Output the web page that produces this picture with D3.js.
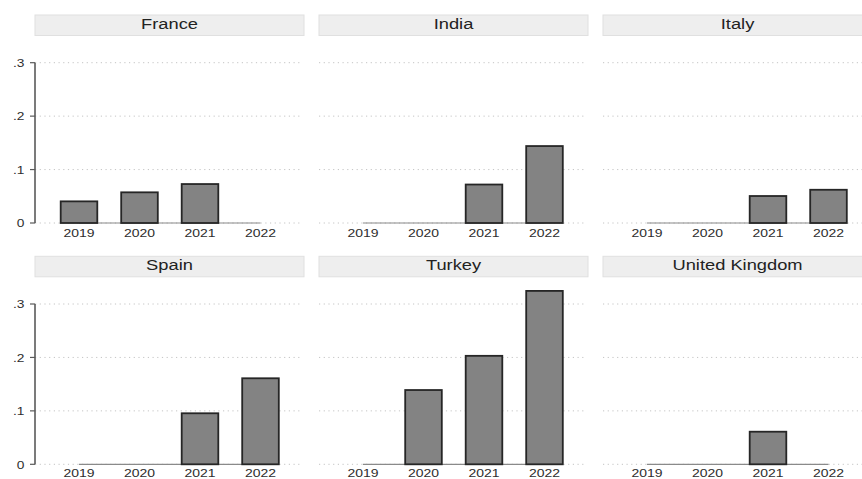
<!DOCTYPE html>
<html>
<head>
<meta charset="utf-8">
<script src="https://cdn.jsdelivr.net/npm/d3@7"></script>
<style>
  html, body { margin: 0; padding: 0; background: #fff; }
  svg { display: block; }
  text { font-family: "Liberation Sans", Arial, sans-serif; }
</style>
</head>
<body>
<script>
// ---- data ----
const countries = ["France", "India", "Italy", "Spain", "Turkey", "United Kingdom"];
const years = ["2019", "2020", "2021", "2022"];
const franceValues  = [0.0405, 0.0574, 0.0729, 0];
const indiaValues   = [0, 0, 0.072, 0.144];
const italyValues   = [0, 0, 0.0505, 0.0622];
const spainValues   = [0, 0, 0.0955, 0.161];
const turkeyValues  = [0, 0.139, 0.203, 0.3245];
const ukValues      = [0, 0, 0.061, 0];
const yTickValues = [0, 0.1, 0.2, 0.3];
const yTickLabels = ["0", ".1", ".2", ".3"];

const seriesByCountry = [franceValues, indiaValues, italyValues, spainValues, turkeyValues, ukValues];

const W = 862, H = 479;
const svg = d3.select("body").append("svg").attr("width", W).attr("height", H);

const colStep = 284, rowStep = 241.3;
const panelLeft0 = 35, plotW = 266, headerW = 269;

function stretchedText(g, x, y, str, size, sx, anchor, fill) {
  g.append("g").attr("transform", `translate(${x},${y}) scale(${sx},1)`)
    .append("text")
    .attr("text-anchor", anchor)
    .attr("font-size", size)
    .attr("fill", fill)
    .text(str);
}

countries.forEach((name, i) => {
  const col = i % 3, row = Math.floor(i / 3);
  const L = panelLeft0 + col * colStep;
  const off = row * rowStep;
  const g = svg.append("g");

  const y = d3.scaleLinear().domain([0, 0.3]).range([223 + off, 62.7 + off]);
  const x = d3.scalePoint().domain(years).range([L + 44, L + 225.5]);
  const barW = x.step() * 0.605;

  // header strip
  g.append("rect")
    .attr("x", L).attr("y", 15 + off)
    .attr("width", headerW).attr("height", 20.5)
    .attr("fill", "#eeeeee").attr("stroke", "#e0e0e0").attr("stroke-width", 1);
  stretchedText(g, L + headerW / 2, 28.5 + off, name, 15, 1.22, "middle", "#222");

  // dotted grid lines
  g.selectAll(".grid").data(yTickValues).enter().append("line")
    .attr("x1", L).attr("x2", L + plotW)
    .attr("y1", d => y(d)).attr("y2", d => y(d))
    .attr("stroke", "#c4c4c4").attr("stroke-width", 1)
    .attr("stroke-dasharray", "1.2,3.5");

  // x axis line (spans the scale range)
  g.append("line")
    .attr("x1", x(years[0])).attr("x2", x(years[years.length - 1]))
    .attr("y1", y(0)).attr("y2", y(0))
    .attr("stroke", "#8a8a8a").attr("stroke-width", 1.2);

  // bars
  const vals = seriesByCountry[i];
  g.selectAll(".bar").data(years.map((yr, k) => ({ yr, v: vals[k] })).filter(d => d.v > 0))
    .enter().append("rect")
    .attr("x", d => x(d.yr) - barW / 2)
    .attr("y", d => y(d.v))
    .attr("width", barW)
    .attr("height", d => y(0) - y(d.v))
    .attr("fill", "#838383")
    .attr("stroke", "#262626").attr("stroke-width", 1.8);

  // year labels
  const labelOffset = row === 0 ? 14.3 : 12.3;
  years.forEach(yr => {
    stretchedText(g, x(yr), y(0) + labelOffset, yr, 11, 1.27, "middle", "#2e2e2e");
  });

  // y axis only on the first column
  if (col === 0) {
    g.append("line")
      .attr("x1", L).attr("x2", L)
      .attr("y1", y(0)).attr("y2", y(0.3))
      .attr("stroke", "#5a5a5a").attr("stroke-width", 1.6);
    yTickValues.forEach((t, k) => {
      g.append("line")
        .attr("x1", L - 5).attr("x2", L)
        .attr("y1", y(t)).attr("y2", y(t))
        .attr("stroke", "#5a5a5a").attr("stroke-width", 1.2);
      stretchedText(g, 24.5, y(t) + 4.2, yTickLabels[k], 11, 1.25, "end", "#2e2e2e");
    });
  }
});
</script>
</body>
</html>
